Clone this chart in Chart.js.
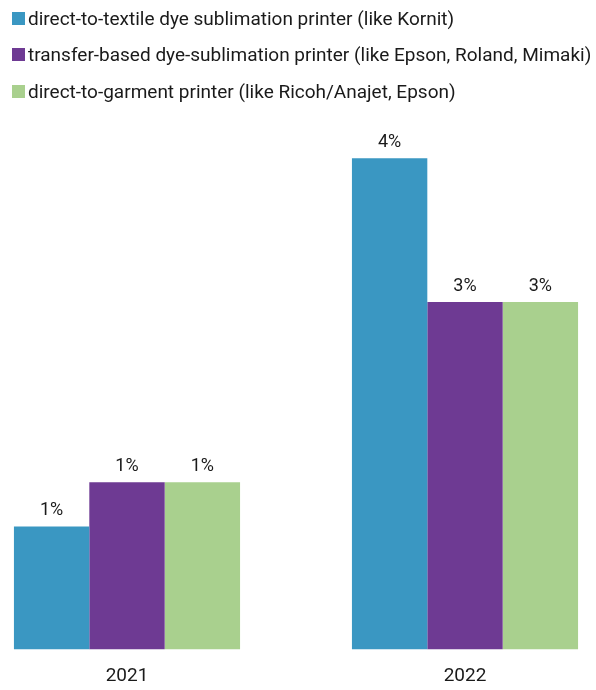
<!DOCTYPE html>
<html>
<head>
<meta charset="utf-8">
<script src="https://cdn.jsdelivr.net/npm/chart.js@4.4.1/dist/chart.umd.min.js"></script>
<style>
  html, body { margin: 0; padding: 0; background: #fff; }
  #wrap { position: relative; width: 596px; height: 690px; overflow: hidden; }
  #chart { position: absolute; left: 0; top: 0; }
  #legend { position: absolute; left: 12px; top: 0; margin: 0; padding: 0; list-style: none;
            font-family: Roboto, "Noto Sans", sans-serif; font-size: 19px; color: #1a1a1a; }
  #legend li { height: 36.5px; display: flex; align-items: center; white-space: nowrap; }
  #legend .box { width: 13px; height: 13px; margin-right: 3px; flex: none; }
</style>
</head>
<body>
<div id="wrap">
  <canvas id="chart" width="596" height="690"></canvas>
  <ul id="legend"></ul>
</div>
<script>
// 年份與各類印表機占比（%）
const years = ['2021', '2022'];
const seriesNames = [
  'direct-to-textile dye sublimation printer (like Kornit)',
  'transfer-based dye-sublimation printer (like Epson, Roland, Mimaki)',
  'direct-to-garment printer (like Ricoh/Anajet, Epson)'
];
const directTextile = [1.0, 4.0];
const transferSublimation = [1.36, 2.83];
const directGarment = [1.36, 2.83];
const seriesColors = ['#3a97c2', '#6e3a93', '#a9d08e'];

const seriesValues = [directTextile, transferSublimation, directGarment];

// 長條上方的百分比標籤
const valueLabels = {
  id: 'valueLabels',
  afterDatasetsDraw(chart) {
    const ctx = chart.ctx;
    ctx.save();
    ctx.font = '18px Roboto, "Noto Sans", sans-serif';
    ctx.fillStyle = '#1a1a1a';
    ctx.textAlign = 'center';
    ctx.textBaseline = 'alphabetic';
    chart.data.datasets.forEach((ds, i) => {
      chart.getDatasetMeta(i).data.forEach((bar, j) => {
        ctx.fillText(Math.round(ds.data[j]) + '%', bar.x, bar.y - 11);
      });
    });
    ctx.restore();
  }
};

const ctx = document.getElementById('chart').getContext('2d');
new Chart(ctx, {
  type: 'bar',
  data: {
    labels: years,
    datasets: seriesValues.map((values, i) => ({
      label: seriesNames[i],
      data: values,
      backgroundColor: seriesColors[i],
      categoryPercentage: 0.669,
      barPercentage: 1,
      clip: false
    }))
  },
  options: {
    responsive: false,
    animation: false,
    layout: { padding: { top: 97, left: 127, right: 131, bottom: -14 } },
    plugins: { legend: { display: false }, tooltip: { enabled: false } },
    scales: {
      x: {
        offset: false,
        grid: { display: false, drawTicks: false },
        border: { display: false },
        ticks: {
          padding: 16,
          color: '#1a1a1a',
          font: { family: 'Roboto, "Noto Sans", sans-serif', size: 19 }
        }
      },
      y: { display: false, min: 0, max: 4.5 }
    }
  },
  plugins: [valueLabels]
});

// 圖例
const legendEl = document.getElementById('legend');
seriesNames.forEach((name, i) => {
  const li = document.createElement('li');
  const box = document.createElement('span');
  box.className = 'box';
  box.style.background = seriesColors[i];
  li.appendChild(box);
  li.appendChild(document.createTextNode(name));
  legendEl.appendChild(li);
});
</script>
</body>
</html>
